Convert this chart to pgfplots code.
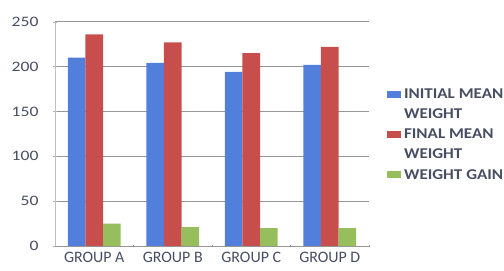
\documentclass[border=0pt]{standalone}
\usepackage{pgfplots}
\pgfplotsset{compat=1.18}
\usepackage{fontspec}
\setmainfont{Carlito}
\newfontfamily\widefont[FakeStretch=1.22]{Carlito}
\newfontfamily\legfont[FakeStretch=1.14]{Carlito}
\definecolor{cblue}{RGB}{82,126,220}
\definecolor{cred}{RGB}{200,78,78}
\definecolor{cgreen}{RGB}{150,190,92}
\definecolor{ctext}{RGB}{72,78,98}
\definecolor{cgrid}{RGB}{150,150,150}
\begin{document}
\begin{tikzpicture}
\useasboundingbox (-55bp,-25bp) rectangle (449bp,246bp);
\begin{axis}[
  scale only axis,
  width=314bp, height=224.3bp,
  ybar=0pt, bar width=17.5bp,
  xmin=-0.5, xmax=3.5,
  ymin=0, ymax=250,
  ytick={0,50,100,150,200,250},
  xtick={0,1,2,3},
  xticklabels={GROUP A,GROUP B,GROUP C,GROUP D},
  minor xtick={-0.5,0.5,1.5,2.5,3.5},
  major x tick style={draw=none},
  minor x tick style={draw=cgrid},
  minor tick length=3bp,
  major tick length=4bp,
  tick align=center,
  major y tick style={draw=cgrid!70},
  ymajorgrids, grid style={cgrid, line width=0.5pt},
  axis x line*=bottom, axis y line*=left,
  x axis line style={cgrid, -},
  y axis line style={draw=cgrid!60, -},
  /pgf/number format/assume math mode=true,
  yticklabel style={font=\widefont\fontsize{14.5}{16}\selectfont, text=ctext, xshift=-11bp},
  xticklabel style={font=\fontsize{16}{18}\selectfont, text=ctext, yshift=-1bp},
  legend style={at={(1.057,0.711)}, anchor=north west, draw=none, fill=none,
    font=\legfont\bfseries\fontsize{15}{18}\selectfont, text=ctext,
    cells={anchor=west, text height=10bp, text depth=3bp},
    row sep=4.6bp, inner sep=0pt, column sep=1bp},
  legend image code/.code={\fill[#1, draw=none] (0bp,-3.5bp) rectangle (14bp,3.5bp);},
]
\addplot[fill=cblue, draw=none, forget plot, bar shift=-17.5bp] coordinates {(0,210) (1,204) (2,194) (3,202)};
\addplot[fill=cred, draw=none, forget plot, bar shift=0bp] coordinates {(0,236) (1,227) (2,215) (3,222)};
\addplot[fill=cgreen, draw=none, forget plot, bar shift=17.5bp] coordinates {(0,25) (1,21) (2,20) (3,20)};
\addlegendimage{fill=cblue, draw=none}
\addlegendentry{INITIAL MEAN}
\addlegendimage{empty legend}
\addlegendentry{WEIGHT}
\addlegendimage{fill=cred, draw=none}
\addlegendentry{FINAL MEAN}
\addlegendimage{empty legend}
\addlegendentry{WEIGHT}
\addlegendimage{fill=cgreen, draw=none}
\addlegendentry{WEIGHT GAIN}
\end{axis}
\end{tikzpicture}
\end{document}
